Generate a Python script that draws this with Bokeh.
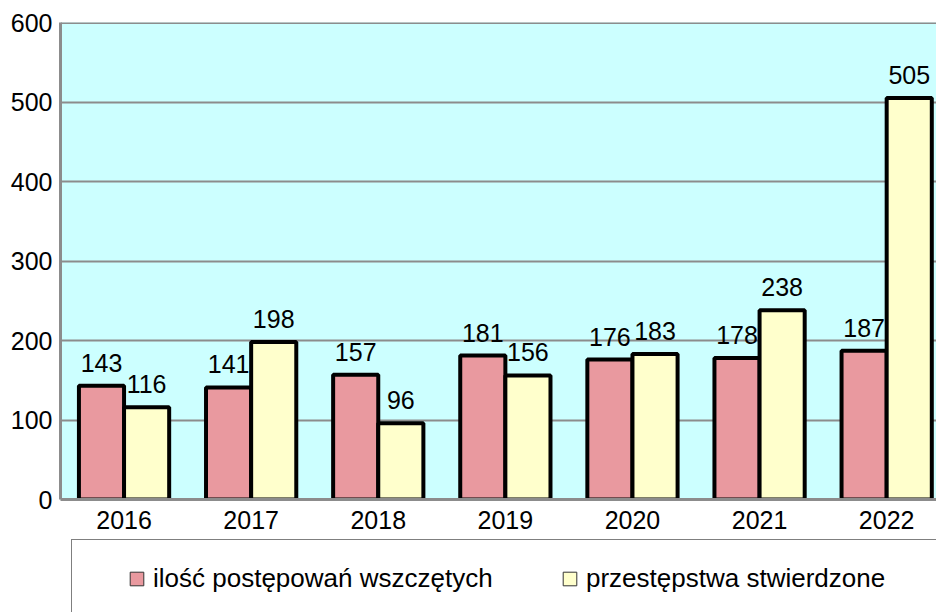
from bokeh.plotting import figure
from bokeh.layouts import column
from bokeh.models import (ColumnDataSource, Range1d, FixedTicker, Legend, LegendItem,
                          LabelSet, Span)
from bokeh.core.properties import value
from bokeh.transform import dodge
from bokeh.embed import file_html
from bokeh.resources import INLINE

# ---- data ----
years = ["2016", "2017", "2018", "2019", "2020", "2021", "2022"]
wszczete = [143, 141, 157, 181, 176, 178, 187]
stwierdzone = [116, 198, 96, 156, 183, 238, 505]
series_names = ["ilość postępowań wszczętych", "przestępstwa stwierdzone"]
y_ticks = [0, 100, 200, 300, 400, 500, 600]

PINK = "#e9999f"
YELLOW = "#ffffcc"
BG = "#ccffff"
GRAY = "#8c8c8c"
FONT = "Liberation Sans"
FS = "25px"

xc = [i + 0.5 for i in range(len(years))]
src = ColumnDataSource(dict(x=xc, a=wszczete, b=stwierdzone,
                            al=[str(v) for v in wszczete],
                            bl=[str(v) for v in stwierdzone]))

p = figure(width=936, height=539, output_backend="svg", toolbar_location=None,
           x_range=Range1d(0.0, 6.892), y_range=Range1d(0, 600),
           min_border_left=60, min_border_right=0, min_border_top=22,
           min_border_bottom=40)
p.background_fill_color = BG
p.border_fill_color = "white"
p.outline_line_color = None

BW = 0.355
p.vbar(x=dodge("x", -BW / 2, range=p.x_range), top="a", width=BW, source=src,
       fill_color=PINK, line_color="black", line_width=4)
p.vbar(x=dodge("x", BW / 2, range=p.x_range), top="b", width=BW, source=src,
       fill_color=YELLOW, line_color="black", line_width=4)

for col, lab, off in (("a", "al", -BW / 2), ("b", "bl", BW / 2)):
    ls = LabelSet(x=dodge("x", off, range=p.x_range), y=col, text=lab, source=src,
                  text_align="center", text_baseline="alphabetic", y_offset=14,
                  text_font=value(FONT), text_font_size=value(FS), text_color="black")
    p.add_layout(ls)

# axes
p.xaxis.ticker = FixedTicker(ticks=xc)
p.xaxis.major_label_overrides = {x: y for x, y in zip(xc, years)}
p.yaxis.ticker = FixedTicker(ticks=y_ticks)
for ax in (p.xaxis[0], p.yaxis[0]):
    ax.axis_line_color = GRAY
    ax.axis_line_width = 3
    ax.major_tick_line_color = None
    ax.minor_tick_line_color = None
    ax.major_tick_out = 0
    ax.major_tick_in = 0
    ax.major_label_text_font = FONT
    ax.major_label_text_font_size = FS
    ax.major_label_text_color = "black"
p.xaxis.major_label_standoff = 11
p.yaxis.major_label_standoff = 8

p.xgrid.grid_line_color = None
p.ygrid.ticker = FixedTicker(ticks=y_ticks)
p.ygrid.grid_line_color = GRAY
p.ygrid.grid_line_width = 2

p.add_layout(Span(location=600, dimension="width", line_color=GRAY, line_width=3))

# legend strip (a second figure; its frame is aligned with the chart's frame)
p2 = figure(width=936, height=73, output_backend="svg", toolbar_location=None,
            x_range=Range1d(0, 1), y_range=Range1d(0, 1),
            x_axis_location=None, y_axis_location=None,
            min_border_left=0, min_border_right=0, min_border_top=0,
            min_border_bottom=0)
p2.outline_line_color = None
p2.grid.visible = False
p2.background_fill_color = "white"
p2.border_fill_color = "white"

r1 = p2.vbar(x="x", top="a", width=0.1, source=src, fill_color=PINK,
             line_color="#333333", line_width=1, visible=False)
r2 = p2.vbar(x="x", top="b", width=0.1, source=src, fill_color=YELLOW,
             line_color="#333333", line_width=1, visible=False)
legend = Legend(items=[LegendItem(label=series_names[0], renderers=[r1]),
                       LegendItem(label=series_names[1], renderers=[r2])],
                orientation="horizontal", location=(11, -6),
                padding=23, spacing=48, margin=0,
                glyph_width=17, glyph_height=17, label_standoff=8,
                label_width=360,
                label_text_font=FONT, label_text_font_size="26px",
                label_text_color="black",
                border_line_color="black", border_line_width=1.5,
                background_fill_color="white", background_fill_alpha=1,
                inactive_fill_alpha=0,
                title=" ", title_location="left", title_text_font_size="10px",
                title_standoff=22)
p2.add_layout(legend)

layout = column(p, p2, spacing=0)
open("out.html", "w").write(file_html(layout, INLINE))
